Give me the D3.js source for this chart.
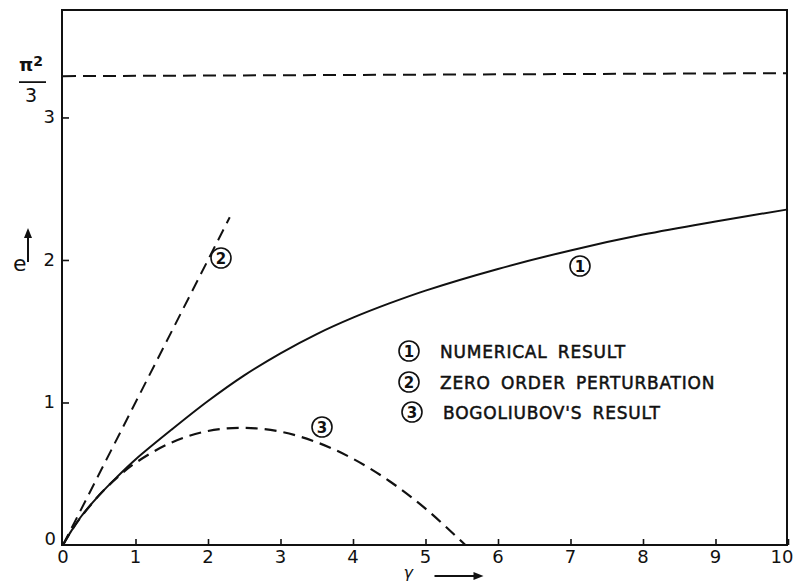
<!DOCTYPE html>
<html><head><meta charset="utf-8">
<script src="https://cdn.jsdelivr.net/npm/d3@7"></script>
<style>
html,body{margin:0;padding:0;background:#fff;}
svg text{font-family:"DejaVu Sans","Liberation Sans",sans-serif;fill:#111;}
</style></head>
<body><svg id="c" width="795" height="583"></svg>
<script>
// Data
const gammaNumerical = [0, 0.1, 0.25, 0.5, 0.75, 1, 1.5, 2, 2.5, 3, 3.5, 4, 4.5, 5, 6, 7, 8, 9, 10];
const eNumerical     = [0, 0.087, 0.2, 0.35, 0.48, 0.6, 0.81, 1.01, 1.19, 1.345, 1.48, 1.595, 1.695, 1.785, 1.937, 2.067, 2.178, 2.27, 2.355];
const gammaZero = [0, 2.3];
const eZero     = [0, 2.3];
const gammaBogo = [0, 0.1, 0.25, 0.5, 0.75, 1, 1.5, 2, 2.5, 3, 3.5, 4, 4.5, 5, 5.55];
const eBogo     = [0, 0.087, 0.197, 0.350, 0.474, 0.576, 0.720, 0.800, 0.822, 0.795, 0.721, 0.605, 0.449, 0.255, 0];
const limitValue = 3.29; // pi^2/3
const xTicks = [0,1,2,3,4,5,6,7,8,9,10];
const yTicks = [1,2,3];
const legendLabels = ["NUMERICAL RESULT", "ZERO ORDER PERTURBATION", "BOGOLIUBOV'S RESULT"];
const curveIds = ["1","2","3"];

const svg = d3.select("#c");
const L = 62, R = 787, T = 10, B = 545;
const x = d3.scaleLinear().domain([0,10]).range([63, 788]);
const y = d3.scaleLinear().domain([0, 3.754]).range([B, T]);

// frame
svg.append("path").attr("d", `M${L},${T}L${R},${T}L${R},${B}L${L},${B}Z`)
  .attr("fill","none").attr("stroke","#111").attr("stroke-width",2);

// x axis ticks
const xa = svg.append("g").attr("transform",`translate(0,${B})`)
  .call(d3.axisBottom(x).tickValues(xTicks.slice(1)).tickSizeInner(-6).tickSizeOuter(0).tickFormat(""));
xa.select(".domain").remove();
xa.selectAll("line").attr("stroke","#111").attr("stroke-width",1.6);
svg.append("g").selectAll("text").data(xTicks).join("text")
  .attr("x", d=> d===10 ? x(d)-6 : x(d)).attr("y", 563).attr("text-anchor","middle")
  .attr("font-size",18).text(d=>d);

// y axis ticks
const ya = svg.append("g").attr("transform",`translate(${L},0)`)
  .call(d3.axisLeft(y).tickValues(yTicks).tickSizeInner(-7).tickSizeOuter(0).tickFormat(""));
ya.select(".domain").remove();
ya.selectAll("line").attr("stroke","#111").attr("stroke-width",1.6);
svg.append("g").selectAll("text").data(yTicks).join("text")
  .attr("x", 55).attr("y", d=>y(d)+6).attr("text-anchor","end")
  .attr("font-size",18).text(d=>d);
svg.append("text").attr("x",56).attr("y",B).attr("text-anchor","end").attr("font-size",18).text("0");

// pi^2/3 label
svg.append("text").attr("x",31).attr("y",y(limitValue)-5).attr("text-anchor","middle")
  .attr("font-size",18).attr("font-weight","bold").html('π<tspan dy="-5" font-size="14">2</tspan>');
svg.append("line").attr("x1",19).attr("x2",46).attr("y1",y(limitValue)+6).attr("y2",y(limitValue)+6)
  .attr("stroke","#111").attr("stroke-width",1.8);
svg.append("text").attr("x",31).attr("y",y(limitValue)+26).attr("text-anchor","middle")
  .attr("font-size",19).text("3");

// e label with arrow
svg.append("text").attr("x",13).attr("y",y(2)+11).attr("font-size",22).text("e");
svg.append("line").attr("x1",28).attr("x2",28).attr("y1",y(2)+2).attr("y2",y(2)-24)
  .attr("stroke","#111").attr("stroke-width",2);
svg.append("path").attr("d",`M24,${y(2)-22}L28,${y(2)-32}L32,${y(2)-22}Z`).attr("fill","#111");

// gamma label with arrow
svg.append("text").attr("x",x(5)-22).attr("y",578).attr("font-size",16).attr("font-style","italic").text("γ");
svg.append("line").attr("x1",x(5)+9).attr("x2",x(5)+50).attr("y1",576).attr("y2",576)
  .attr("stroke","#111").attr("stroke-width",2);
svg.append("path").attr("d",`M${x(5)+48},572L${x(5)+58},576L${x(5)+48},580Z`).attr("fill","#111");

// limit dashed line
svg.append("line").attr("x1",x(0)).attr("x2",R).attr("y1",y(limitValue)).attr("y2",y(limitValue)-3)
  .attr("stroke","#111").attr("stroke-width",2).attr("stroke-dasharray","13,7");

const line = d3.line().x(d=>x(d[0])).y(d=>y(d[1])).curve(d3.curveCatmullRom.alpha(0.5));
svg.append("path").datum(d3.zip(gammaNumerical,eNumerical)).attr("d",line)
  .attr("fill","none").attr("stroke","#111").attr("stroke-width",2);
svg.append("path").datum(d3.zip(gammaZero,eZero)).attr("d",d3.line().x(d=>x(d[0])).y(d=>y(d[1])))
  .attr("fill","none").attr("stroke","#111").attr("stroke-width",2).attr("stroke-dasharray","12,7");
svg.append("path").datum(d3.zip(gammaBogo,eBogo)).attr("d",line)
  .attr("fill","none").attr("stroke","#111").attr("stroke-width",2.2).attr("stroke-dasharray","12,7");

// circled labels
function circled(cx, cy, t){
  const g = svg.append("g");
  g.append("circle").attr("cx",cx).attr("cy",cy).attr("r",10)
    .attr("fill","#fff").attr("stroke","#111").attr("stroke-width",1.6);
  g.append("text").attr("x",cx).attr("y",cy+5.5).attr("text-anchor","middle")
    .attr("font-size",15).attr("font-weight","bold").text(t);
}
circled(580, 266, curveIds[0]);
circled(221, 258, curveIds[1]);
circled(322, 427, curveIds[2]);

// legend
const legY = [351, 382, 412];
const legCx = [409, 409, 412];
legendLabels.forEach((lab,i)=>{
  circled(legCx[i], legY[i], curveIds[i]);
  svg.append("text").attr("x", legCx[i]+31).attr("y", legY[i]+7)
    .attr("font-size",17).attr("letter-spacing","0.8px").attr("word-spacing","4px")
    .attr("stroke","#111").attr("stroke-width",0.5).text(lab);
});
</script></body></html>
